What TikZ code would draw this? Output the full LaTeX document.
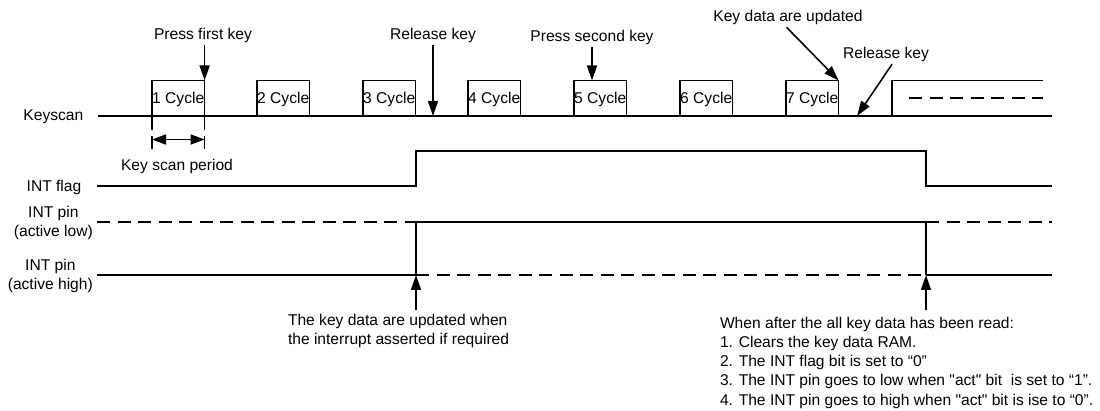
\documentclass[tikz,border=0pt]{standalone}
\usepackage{fontspec}
\setmainfont{Liberation Sans}[Ligatures=TeXOff]
\usetikzlibrary{arrows.meta}
\begin{document}
\begin{tikzpicture}[x=1pt,y=-1pt,
  wave/.style={line width=1.6pt},
  dsh/.style={line width=1.6pt, dash pattern=on 13pt off 7.5pt},
  lbl/.style={font=\fontsize{15.6}{19.2}\selectfont, inner sep=0pt},
  toplbl/.style={lbl, outer sep=3pt},
  arr/.style={line width=1.6pt, -{Triangle[length=15pt,width=10pt]}},
  darr/.style={line width=1.6pt, {Triangle[length=14pt,width=10pt]}-{Triangle[length=14pt,width=10pt]}}]
\useasboundingbox (0,0) rectangle (1100,411);

% signal labels
\node[lbl, anchor=east] (ks) at (83.5,117) {Keyscan};
\node[lbl, anchor=east] (intf) at (81.5,187) {INT flag};
\node[lbl, align=center, anchor=east] (pinl) at (93,223) {INT pin\\(active low)};
\node[lbl, align=center, anchor=east] (pinh) at (93,276) {INT pin\\(active high)};

% keyscan waveform
\coordinate (ksA) at (98,116);
\coordinate (ksB) at (1051.5,116);
\draw[wave] (ksA) -- (ksB);
\foreach \i/\x in {1/152,2/257,3/363,4/468,5/574,6/680,7/786}{
  \draw[wave] (\x,116) -- (\x,80.5) -- (\x+52.6,80.5) -- (\x+52.6,116);
  \node[lbl, anchor=west] (c\i) at (\x,99) {\i{} Cycle};
  \coordinate (b\i) at (\x+52.6,80.5);
}
\draw[wave] (892,116) -- (892,80.5) -- (1043,80.5);
\draw[dsh] (909,98) -- (1043,98);

% key scan period
\coordinate (kpL) at (152,139.5);
\coordinate (kpR) at (204.6,139.5);
\draw[line width=1.4pt, dash pattern=on 13pt off 6pt] (152,117) -- (152,151.5);
\draw[line width=1.4pt, dash pattern=on 13pt off 6pt] (204.6,117) -- (204.6,151.5);
\draw[darr] (kpL) -- (kpR);
\node[lbl] (ksp) at (177,166) {Key scan period};

% INT flag
\coordinate (t1) at (416,186);
\coordinate (t2) at (926,186);
\draw[wave] (97,186) -- (t1) -- (416,151) -- (926,151) -- (t2) -- (1051.5,186);

% INT pin active low / high
\coordinate (v1t) at (416,222);
\coordinate (v1b) at (416,275);
\coordinate (v2t) at (926,222);
\coordinate (v2b) at (926,275);
\draw[dsh] (97,222) -- (v1t);
\draw[wave] (v1t) -- (v2t);
\draw[dsh] (v2t) -- (1051.5,222);
\draw[wave] (97,275) -- (v1b);
\draw[dsh] (v1b) -- (v2b);
\draw[wave] (v2b) -- (1051.5,275);
\draw[wave] (v1t) -- (v1b);
\draw[wave] (v2t) -- (v2b);

% top annotations
\node[toplbl] (pfk) at (203,35) {Press first key};
\draw[arr] (pfk.south -| b1) -- (b1);
\coordinate (rel1) at (433,116);
\node[toplbl] (rk1) at (433,35) {Release key};
\draw[arr] (rk1.south) -- (rel1);
\coordinate (p5) at (592,80.5);
\node[toplbl] (psk) at (592,37) {Press second key};
\draw[arr] (psk.south) -- (p5);
\node[toplbl] (kdu) at (788,17) {Key data are updated};
\draw[arr] ([xshift=-1.5pt]kdu.south) -- (b7);
\coordinate (rel2) at (857,116);
\node[toplbl] (rk2) at (886,54) {Release key};
\draw[arr] ([xshift=6pt]rk2.south) -- (rel2);

% bottom annotations
\node[lbl, align=left, anchor=north west, outer sep=4pt] (note1) at (284,310)
  {The key data are updated when\\the interrupt asserted if required};
\draw[arr] (note1.north -| v1b) -- (v1b);
\node[lbl, align=left, anchor=north west, outer sep=7pt] (note2) at (713,310)
  {When after the all key data has been read:\\
   1. Clears the key data RAM.\\
   2. The INT flag bit is set to “0”\\
   3. The INT pin goes to low when "act" bit\ \ is set to “1”.\\
   4. The INT pin goes to high when "act" bit is ise to “0”.};
\draw[arr] (note2.north -| v2b) -- (v2b);
\end{tikzpicture}
\end{document}
